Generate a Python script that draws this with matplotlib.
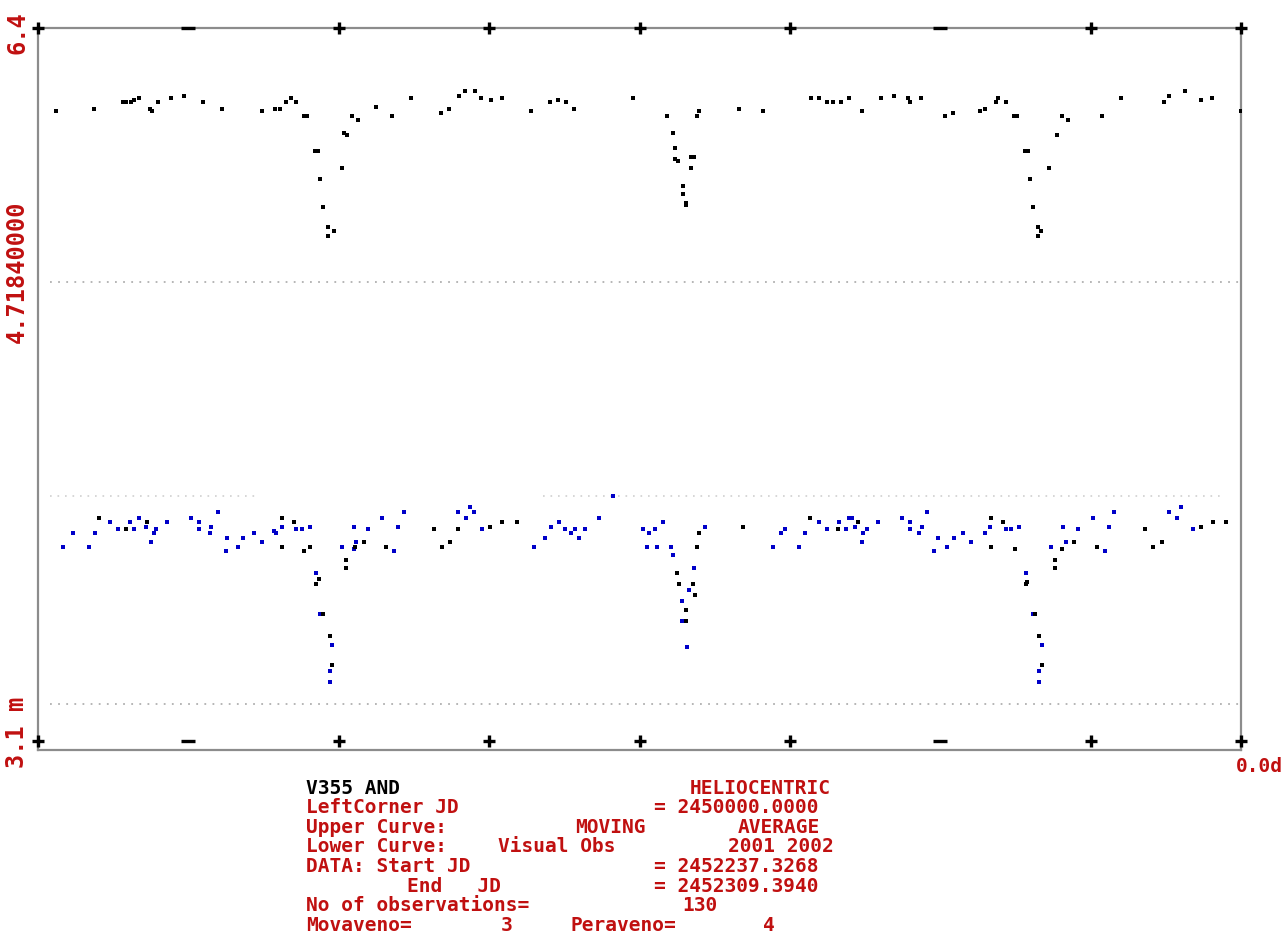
import matplotlib
matplotlib.use("Agg")
import matplotlib.pyplot as plt
import matplotlib.transforms as mtransforms

# upper curve: moving average (black dots)
upper_x = [1.20, 3.72, 5.65, 5.85, 6.18, 6.38, 6.72, 7.45, 7.58, 7.98, 8.84, 9.71,
           10.97, 12.23, 14.89, 15.76, 16.09, 16.49, 16.82, 17.15, 17.69, 17.89,
           18.42, 18.62, 18.75, 18.95, 19.28, 19.28, 19.68, 20.21, 20.35, 20.55,
           20.88, 21.28, 22.47, 23.54, 24.80,
           26.80, 27.33, 27.99, 28.39, 29.06, 29.45, 30.12, 30.85, 32.78, 34.04,
           34.57, 35.11, 35.64, 39.56, 41.82, 42.22, 42.35, 42.35, 42.55, 42.89,
           42.89, 43.09, 43.09, 43.42, 43.42, 43.62, 43.82, 43.95, 46.61, 48.20,
           51.40, 51.93, 52.46, 52.86, 53.39, 53.92,
           54.79, 56.05, 56.91, 57.85, 57.98, 58.71, 60.31, 60.84, 62.63, 62.97,
           63.70, 63.83, 64.36, 64.89, 65.09, 65.63, 65.82, 65.96, 66.16, 66.49,
           66.69, 66.49, 67.22, 67.75, 68.09, 68.48, 70.74, 72.01, 74.87, 75.20,
           76.26, 77.33, 78.06, 79.99]
upper_y = [6.02, 6.03, 6.06, 6.06, 6.06, 6.07, 6.08, 6.03, 6.02, 6.06, 6.08, 6.09,
           6.06, 6.03, 6.02, 6.03, 6.03, 6.06, 6.08, 6.06, 6.00, 6.00,
           5.84, 5.84, 5.71, 5.58, 5.49, 5.45, 5.47, 5.76, 5.92, 5.91,
           6.00, 5.98, 6.04, 6.00, 6.08,
           6.01, 6.03, 6.09, 6.11, 6.11, 6.08, 6.07, 6.08, 6.02, 6.06,
           6.07, 6.06, 6.03, 6.08, 6.00, 5.92, 5.85, 5.80, 5.79, 5.68,
           5.64, 5.60, 5.59, 5.76, 5.81, 5.81, 6.00, 6.02, 6.03, 6.02,
           6.08, 6.08, 6.06, 6.06, 6.06, 6.08,
           6.02, 6.08, 6.09, 6.08, 6.06, 6.08, 6.00, 6.01, 6.02, 6.03,
           6.06, 6.08, 6.06, 6.00, 6.00, 5.84, 5.84, 5.71, 5.58, 5.49,
           5.47, 5.45, 5.76, 5.91, 6.00, 5.98, 6.00, 6.08, 6.06, 6.09,
           6.11, 6.07, 6.08, 6.02]

# lower curve: visual observations 2001-2002
blue_x = [1.66, 2.33, 3.39, 3.79, 4.79, 5.32, 6.12, 6.38, 6.72, 7.18, 7.71, 7.51,
          7.85, 8.58, 10.17, 10.70, 10.70, 11.44, 11.50, 11.97, 12.57, 12.50,
          13.30, 13.63, 14.36, 14.89, 15.69, 15.82, 16.22, 17.15, 17.55, 18.09,
          18.48, 18.75, 19.55, 19.41, 19.41, 20.21, 21.01, 21.01, 21.14, 21.94,
          22.87, 23.67, 23.94, 24.34, 27.93, 28.46, 28.72, 28.99, 29.52, 32.98,
          33.71, 34.11, 34.64, 35.04, 35.44, 35.70, 35.97, 36.37, 37.30, 38.23,
          40.23, 40.63, 41.02, 41.56, 40.49, 41.16, 42.09, 42.22, 43.62, 43.28,
          42.82, 42.82, 43.15, 44.35, 48.87, 49.40, 49.67, 50.60, 51.00, 51.93,
          52.46, 53.26, 53.72, 53.92, 54.12, 54.32, 54.85, 55.12, 54.79, 55.85,
          57.45, 57.98, 57.98, 58.78, 58.58, 59.11, 59.84, 59.57, 60.44, 60.90,
          61.50, 62.03, 63.30, 62.97, 64.36, 64.69, 65.23, 65.69, 66.16, 66.76,
          66.56, 66.56, 67.35, 68.15, 68.35, 69.15, 70.15, 71.21, 71.54, 70.94,
          75.20, 75.73, 76.00, 76.80]
blue_y = [4.03, 4.09, 4.03, 4.09, 4.14, 4.11, 4.14, 4.11, 4.16, 4.12, 4.09, 4.05,
          4.11, 4.14, 4.16, 4.14, 4.11, 4.09, 4.12, 4.19, 4.07, 4.01,
          4.03, 4.07, 4.09, 4.05, 4.10, 4.09, 4.12, 4.11, 4.11, 4.12,
          3.91, 3.72, 3.58, 3.46, 3.41, 4.03, 4.12, 4.02, 4.05, 4.11,
          4.16, 4.01, 4.12, 4.19, 4.19, 4.16, 4.21, 4.19, 4.11, 4.03,
          4.07, 4.12, 4.14, 4.11, 4.09, 4.11, 4.07, 4.11, 4.16, 4.26,
          4.11, 4.09, 4.11, 4.14, 4.03, 4.03, 4.03, 3.99, 3.93, 3.83,
          3.78, 3.69, 3.57, 4.12, 4.03, 4.09, 4.11, 4.03, 4.09, 4.14,
          4.11, 4.14, 4.11, 4.16, 4.16, 4.12, 4.09, 4.11, 4.05, 4.14,
          4.16, 4.14, 4.11, 4.12, 4.09, 4.19, 4.07, 4.01, 4.03, 4.07,
          4.09, 4.05, 4.12, 4.09, 4.11, 4.11, 4.12, 3.91, 3.72, 3.58,
          3.46, 3.41, 4.03, 4.12, 4.05, 4.11, 4.16, 4.12, 4.19, 4.01,
          4.19, 4.16, 4.21, 4.11]
black_x = [4.06, 5.85, 7.25, 16.22, 16.22, 17.02, 17.69, 18.09, 18.68, 18.48, 18.95,
           19.41, 19.55, 20.48, 20.48, 21.08, 21.68, 23.14, 26.33, 26.86, 27.39,
           27.93, 30.05, 30.85, 31.85, 42.49, 42.62, 43.55, 43.68, 43.09, 43.09,
           43.95, 43.82, 46.88, 51.33, 53.19, 54.52, 63.36, 63.36, 64.16, 64.96,
           65.76, 65.69, 66.29, 66.56, 66.76, 67.62, 67.62, 68.09, 68.88, 70.41,
           73.60, 74.14, 74.73, 77.33, 78.12, 78.99]
black_y = [4.16, 4.11, 4.14, 4.16, 4.03, 4.14, 4.01, 4.03, 3.88, 3.86, 3.72,
           3.62, 3.49, 3.97, 3.93, 4.03, 4.05, 4.03, 4.11, 4.03, 4.05,
           4.11, 4.12, 4.14, 4.14, 3.91, 3.86, 3.86, 3.81, 3.74, 3.69,
           4.09, 4.03, 4.12, 4.16, 4.11, 4.14, 4.16, 4.03, 4.14, 4.02,
           3.87, 3.86, 3.72, 3.62, 3.49, 3.97, 3.93, 4.02, 4.05, 4.03,
           4.11, 4.03, 4.05, 4.12, 4.14, 4.14]

# dotted reference levels
ref_levels = [5.24, 3.31]
mid_level = 4.26
mid_segments = [(0.8, 14.6), (33.6, 78.9)]

tick_pos = [0, 10, 20, 30, 40, 50, 60, 70, 80]
dash_ticks = [10, 60]

info_lines = [
    [("V355 AND", 306, "left", "black"), ("HELIOCENTRIC", 831, "right", "red")],
    [("LeftCorner JD", 306, "left", "red"), ("= 2450000.0000", 819, "right", "red")],
    [("Upper Curve:", 306, "left", "red"), ("MOVING", 610, "center", "red"),
     ("AVERAGE", 820, "right", "red")],
    [("Lower Curve:", 306, "left", "red"), ("Visual Obs", 498, "left", "red"),
     ("2001 2002", 834, "right", "red")],
    [("DATA: Start JD", 306, "left", "red"), ("= 2452237.3268", 819, "right", "red")],
    [("End   JD", 407, "left", "red"), ("= 2452309.3940", 819, "right", "red")],
    [("No of observations=", 306, "left", "red"), ("130", 700, "center", "red")],
    [("Movaveno=", 306, "left", "red"), ("3", 507, "center", "red"),
     ("Peraveno=", 570, "left", "red"), ("4", 769, "center", "red")],
]

W, H = 1285, 939
red = "#c01010"
font = dict(family="DejaVu Sans Mono", weight="bold", fontsize=14)
yfont = dict(family="DejaVu Sans Mono", weight="bold", fontsize=17)

fig = plt.figure(figsize=(W / 100, H / 100), dpi=100)
ax = fig.add_axes([38 / W, 1 - 750 / H, (1241 - 38) / W, (750 - 28) / H])
ax.set_xlim(0, 80)
ax.set_ylim(3.1, 6.4)
ax.set_xticks([])
ax.set_yticks([])
for s in ax.spines.values():
    s.set_color("#8c8c8c")
    s.set_linewidth(1.6)

# reference levels
for lv in ref_levels:
    ax.plot([0.8, 80], [lv, lv], color="#b0b0b0", lw=1.3, ls=(0, (1, 3.5)))
for a, b in mid_segments:
    ax.plot([a, b], [mid_level, mid_level], color="#cfcfcf", lw=1.2, ls=(0, (1, 3.5)))

ax.scatter(upper_x, upper_y, s=5, marker="s", color="black", linewidths=0, zorder=3)
ax.scatter(blue_x, blue_y, s=10, marker="s", color="#0000c8", linewidths=0, zorder=3)
ax.scatter(black_x, black_y, s=10, marker="s", color="black", linewidths=0, zorder=4)

# tick marks on top and bottom
trans = mtransforms.blended_transform_factory(ax.transData, ax.transAxes)
plus_ticks = [t for t in tick_pos if t not in dash_ticks]
for yy in (1.0, 9 / 722):
    ax.plot(plus_ticks, [yy] * len(plus_ticks), ls="none", marker="+", ms=8,
            mew=2.4, color="black", transform=trans, clip_on=False, zorder=5)
    ax.plot(dash_ticks, [yy] * len(dash_ticks), ls="none", marker="_", ms=10,
            mew=2.4, color="black", transform=trans, clip_on=False, zorder=5)

# y-axis labels
fig.text(17 / W, 1 - 33 / H, "6.4", color=red, rotation=90, ha="center", va="center", **yfont)
fig.text(17 / W, 1 - 272 / H, "4.71840000", color=red, rotation=90, ha="center",
         va="center", **yfont)
fig.text(17 / W, 1 - 732 / H, "3.1 m", color=red, rotation=90, ha="center",
         va="center", **yfont)
fig.text(1283 / W, 1 - 766 / H, "0.0d", color=red, ha="right", va="center", **font)

for i, line in enumerate(info_lines):
    y = 788 + 19.6 * i
    for txt, x, ha, col in line:
        fig.text(x / W, 1 - y / H, txt, color=red if col == "red" else "black",
                 ha=ha, va="center", **font)

fig.savefig("out.png", dpi=100, facecolor="white")
